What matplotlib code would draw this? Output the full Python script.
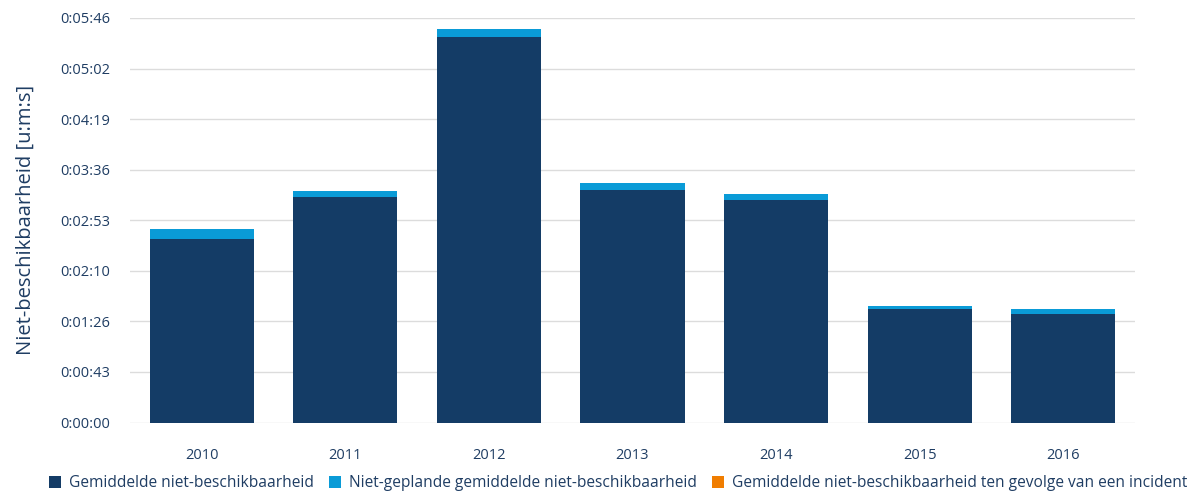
import matplotlib.pyplot as plt
import numpy as np

plt.rcParams['font.family'] = ['Open Sans', 'DejaVu Sans']

years = ["2010", "2011", "2012", "2013", "2014", "2015", "2016"]
# seconds
gemiddeld = [156.8, 192.7, 329.3, 198.6, 190.1, 97.0, 92.7]
niet_gepland = [8.5, 5.1, 6.8, 6.0, 5.1, 2.6, 4.3]
incident = [0, 0, 0, 0, 0, 0, 0]

tick_vals = [0, 43.2, 86.4, 129.6, 172.8, 216.0, 259.2, 302.4, 345.6]
tick_labels = ["0:00:00", "0:00:43", "0:01:26", "0:02:10", "0:02:53",
               "0:03:36", "0:04:19", "0:05:02", "0:05:46"]

navy = "#143c66"
blue = "#0a9bd7"
orange = "#f07d00"
txt = "#1f3d63"

fig = plt.figure(figsize=(11.89, 4.93), dpi=100)
ax = fig.add_axes([0.1093, 0.143, 0.8453, 0.8205])

x = np.arange(len(years))
w = 0.725
ax.bar(x, gemiddeld, w, color=navy, label="Gemiddelde niet-beschikbaarheid", zorder=3)
ax.bar(x, niet_gepland, w, bottom=gemiddeld, color=blue,
       label="Niet-geplande gemiddelde niet-beschikbaarheid", zorder=3)
bot2 = np.array(gemiddeld) + np.array(niet_gepland)
ax.bar(x, incident, w, bottom=bot2, color=orange,
       label="Gemiddelde niet-beschikbaarheid ten gevolge van een incident", zorder=3)

ax.set_xlim(-0.5, 6.5)
ax.set_ylim(0, 345.6)
ax.set_yticks(tick_vals)
ax.set_yticklabels(tick_labels)
ax.set_xticks(x)
ax.set_xticklabels(years)
ax.grid(axis='y', color='#dcdcdc', linewidth=1, zorder=0)
for s in ax.spines.values():
    s.set_visible(False)
ax.tick_params(axis='both', length=0, colors=txt, labelsize=10.5)
ax.tick_params(axis='y', pad=14)
ax.tick_params(axis='x', pad=18)
ax.set_ylabel("Niet-beschikbaarheid [u:m:s]", color=txt, fontsize=14.5, labelpad=18)

leg = fig.legend(loc='lower center', bbox_to_anchor=(0.52, -0.025), ncol=3, frameon=False,
                 fontsize=11.2, handlelength=0.75, handleheight=0.75, handletextpad=0.5,
                 columnspacing=1.0)
for t in leg.get_texts():
    t.set_color(txt)

fig.savefig("out.png", dpi=100)
